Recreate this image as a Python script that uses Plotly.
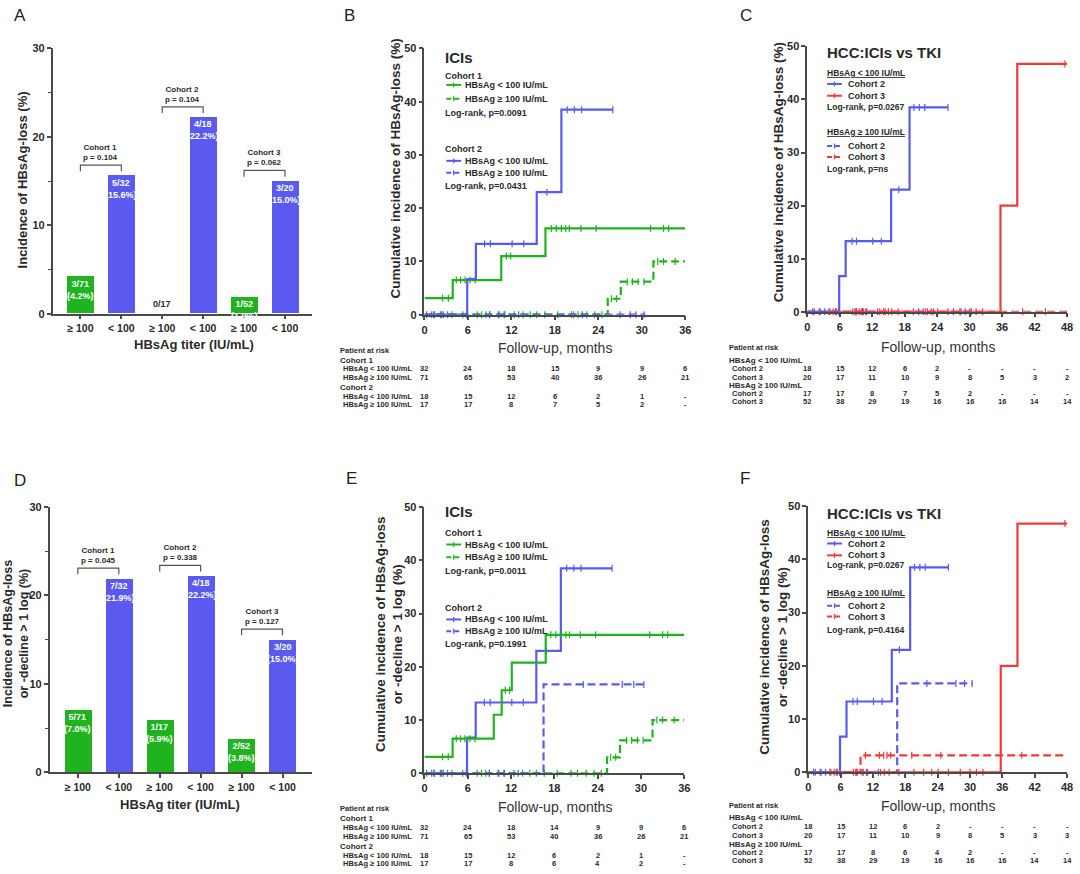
import plotly.graph_objects as go

W, H = 1080, 874
GREEN = "#1fb41f"
BLUE = "#5a5af0"
RED = "#f03a3a"
TXT = "#2a2a2a"
AX = "#4a4a4a"
FONT = "Arial, Liberation Sans, sans-serif"
DASH = "8px,4px"

# ---------------- bar data (panels A, D) ----------------
bar_categories = ["≥ 100", "< 100", "≥ 100", "< 100", "≥ 100", "< 100"]
bar_cohorts = ["Cohort 1", "Cohort 2", "Cohort 3"]
loss_pct = [4.2, 15.6, 0.0, 22.2, 1.9, 15.0]
loss_frac = ["3/71", "5/32", "0/17", "4/18", "1/52", "3/20"]
loss_p = ["0.104", "0.104", "0.062"]
decl_pct = [7.0, 21.9, 5.9, 22.2, 3.8, 15.0]
decl_frac = ["5/71", "7/32", "1/17", "4/18", "2/52", "3/20"]
decl_p = ["0.045", "0.338", "0.127"]

# ---------------- Kaplan-Meier style data ----------------
# (event times, cumulative incidence %, end of follow-up, censor times)
c1_lt_loss_t = [0, 3.9, 10.6, 16.7]
c1_lt_loss_v = [3.1, 6.5, 11.0, 16.2]
c1_lt_loss_end = 36
c1_lt_loss_cens = [2.5, 3.3, 4.4, 5.0, 5.6, 6.3, 7.0, 11.3, 11.9, 17.5, 18.2, 18.9, 19.5, 20.0, 21.6, 23.7, 31.2, 33.0, 33.7]

c1_ge_loss_t = [0, 25.3, 27.1, 31.6]
c1_ge_loss_v = [0, 3.0, 6.2, 10.0]
c1_ge_loss_end = 36
c1_ge_loss_cens = [0.3, 1.4, 2.6, 3.8, 5.3, 7.3, 7.9, 8.5, 9.0, 10.3, 11.1, 12.4, 13.6, 14.6, 15.5, 16.6,
                   18.4, 20.3, 21.2, 22.4, 23.5, 24.5, 25.8, 26.5, 28.0, 28.7, 29.5, 30.3, 32.2, 33.0, 34.6]

c2_lt_loss_t = [0, 5.9, 7.1, 15.5, 18.9]
c2_lt_loss_v = [0, 6.7, 13.3, 23.0, 38.5]
c2_lt_loss_end = 26
c2_lt_loss_cens = [1.3, 2.4, 3.2, 8.3, 9.1, 12.1, 13.7, 16.9, 19.7, 20.7, 21.7, 26.0]

c2_ge_loss_t = [0]
c2_ge_loss_v = [0]
c2_ge_loss_end = 30.5
c2_ge_loss_cens = [1.0, 2.2, 5.8, 9.0, 10.2, 11.0, 13.0, 20.6, 21.8, 27.0, 28.4, 29.2, 30.3]

c3_lt_loss_t = [0, 35.7, 38.8]
c3_lt_loss_v = [0, 20.0, 46.7]
c3_lt_loss_end = 48
c3_lt_loss_cens = [4.2, 4.8, 5.4, 8.4, 9.1, 10.0, 10.8, 13.4, 14.1, 15.0, 16.8, 19.6, 21.4, 22.9,
                   24.1, 26.0, 28.2, 30.0, 31.2, 32.4, 47.6]

c3_ge_loss_t = [0]
c3_ge_loss_v = [0]
c3_ge_loss_end = 48
c3_ge_loss_cens = [4.0, 5.2, 8.8, 9.6, 10.4, 14.4, 15.6, 22.2, 23.3, 39.8, 44.0]

c1_lt_decl_t = [0, 3.9, 9.6, 10.7, 12.1, 16.8]
c1_lt_decl_v = [3.1, 6.5, 11.0, 15.6, 20.8, 26.0]
c1_lt_decl_end = 36
c1_lt_decl_cens = [2.5, 3.3, 4.4, 5.0, 5.6, 6.3, 7.0, 11.2, 11.8, 17.5, 18.2, 19.0, 19.6, 20.1, 21.6, 23.7, 31.2, 33.0, 33.7]

c2_ge_decl_t = [0, 16.5]
c2_ge_decl_v = [0, 16.7]
c2_ge_decl_end = 30.4
c2_ge_decl_cens = [1.0, 2.2, 5.8, 9.0, 10.2, 11.0, 13.0, 22.0, 27.4, 29.0, 30.4]

c3_ge_decl_t = [0, 9.7]
c3_ge_decl_v = [0, 3.2]
c3_ge_decl_end = 48
c3_ge_decl_cens = [4.0, 5.2, 8.8, 10.6, 13.2, 14.0, 14.6, 15.3, 19.2, 24.6, 39.6]

# ---------------- risk tables ----------------
ici_ticks = [0, 6, 12, 18, 24, 30, 36]
tki_ticks = [0, 6, 12, 18, 24, 30, 36, 42, 48]

B_risk_c1_lt = ["32", "24", "18", "15", "9", "9", "6"]
B_risk_c1_ge = ["71", "65", "53", "40", "36", "26", "21"]
B_risk_c2_lt = ["18", "15", "12", "6", "2", "1", "-"]
B_risk_c2_ge = ["17", "17", "8", "7", "5", "2", "-"]

C_risk_lt_c2 = ["18", "15", "12", "6", "2", "-", "-", "-", "-"]
C_risk_lt_c3 = ["20", "17", "11", "10", "9", "8", "5", "3", "2"]
C_risk_ge_c2 = ["17", "17", "8", "7", "5", "2", "-", "-", "-"]
C_risk_ge_c3 = ["52", "38", "29", "19", "16", "16", "16", "14", "14"]

E_risk_c1_lt = ["32", "24", "18", "14", "9", "9", "6"]
E_risk_c1_ge = ["71", "65", "53", "40", "36", "26", "21"]
E_risk_c2_lt = ["18", "15", "12", "6", "2", "1", "-"]
E_risk_c2_ge = ["17", "17", "8", "6", "4", "2", "-"]

F_risk_lt_c2 = ["18", "15", "12", "6", "2", "-", "-", "-", "-"]
F_risk_lt_c3 = ["20", "17", "11", "10", "9", "8", "5", "3", "3"]
F_risk_ge_c2 = ["17", "17", "8", "6", "4", "2", "-", "-", "-"]
F_risk_ge_c3 = ["52", "38", "29", "19", "16", "16", "16", "14", "14"]


# ---------------- helpers ----------------
def px(x):
    return x / W


def py(y):
    return 1 - y / H


annotations = []
shapes = []


def ann(text, x, y, size=9, bold=True, color=TXT, xanchor="left", yanchor="middle",
        xref="paper", yref="paper", angle=0, yshift=0):
    if bold:
        text = f"<b>{text}</b>"
    annotations.append(dict(text=text, x=x, y=y, xref=xref, yref=yref, xanchor=xanchor,
                            yanchor=yanchor, showarrow=False, textangle=angle, yshift=yshift,
                            font=dict(size=size, color=color, family=FONT), borderpad=0))


def axis(**kw):
    d = dict(showline=True, linecolor=AX, linewidth=1.5, ticks="outside", ticklen=4,
             tickwidth=1.5, tickcolor=AX, showgrid=False, zeroline=False, fixedrange=True,
             tickfont=dict(family=FONT, size=11, color=TXT, weight="bold"))
    d.update(kw)
    return d


fig = go.Figure()


def level_at(t, v, x):
    lv = v[0]
    for ti, vi in zip(t, v):
        if ti <= x:
            lv = vi
    return lv


def km(xa, ya, t, v, end, cens, color, dash):
    xs = list(t) + [end]
    ys = list(v) + [v[-1]]
    fig.add_trace(go.Scatter(x=xs, y=ys, mode="lines", line=dict(color=color, width=2.2, dash=dash, shape="hv"),
                             xaxis=xa, yaxis=ya, showlegend=False, hoverinfo="skip"))
    fig.add_trace(go.Scatter(x=cens, y=[level_at(t, v, c) for c in cens], mode="markers",
                             marker=dict(symbol="line-ns", size=5, color=color, line=dict(width=1.2, color=color)),
                             xaxis=xa, yaxis=ya, showlegend=False, hoverinfo="skip", cliponaxis=False))


def bars(xa, ya, pct, frac, pvals):
    xref = "x" if xa == "x" else xa
    yref = "y" if ya == "y" else ya
    colors = [GREEN if i % 2 == 0 else BLUE for i in range(len(pct))]
    fig.add_trace(go.Bar(x=list(range(len(pct))), y=pct, marker=dict(color=colors, line=dict(width=0)),
                         width=0.66, xaxis=xa, yaxis=ya, showlegend=False, hoverinfo="skip"))
    for i, (p, f) in enumerate(zip(pct, frac)):
        if p > 0:
            ann(f"{f}<br>({p:.1f}%)", i, p, size=9, color="white", xanchor="center", yanchor="top",
                xref=xref, yref=yref, yshift=-1)
        else:
            ann(f, i, p, size=9, color=TXT, xanchor="center", yanchor="bottom", xref=xref, yref=yref, yshift=4)
    for k, (coh, pv) in enumerate(zip(bar_cohorts, pvals)):
        i, j = 2 * k, 2 * k + 1
        top = max(pct[i], pct[j]) + 1.2
        low = top - 0.7
        fig.add_trace(go.Scatter(x=[i, i, j, j], y=[low, top, top, low], mode="lines",
                                 line=dict(color="#555555", width=1.2), xaxis=xa, yaxis=ya,
                                 showlegend=False, hoverinfo="skip"))
        ann(f"{coh}<br>p = {pv}", (i + j) / 2, top, size=8, xanchor="center", yanchor="bottom",
            xref=xref, yref=yref, yshift=2)


def sample(x0, y, color, dash):
    shapes.append(dict(type="line", xref="paper", yref="paper", x0=px(x0), x1=px(x0 + 15), y0=py(y), y1=py(y),
                       line=dict(color=color, width=2, dash=("5px,3px" if dash != "solid" else "solid"))))
    shapes.append(dict(type="line", xref="paper", yref="paper", x0=px(x0 + 7.5), x1=px(x0 + 7.5),
                       y0=py(y - 2.5), y1=py(y + 2.5), line=dict(color=color, width=1.3)))


def risk_table(xref, ticks, top, rows, label_x):
    ann("Patient at risk", px(label_x), py(top), size=7.5)
    for (kind, label, vals, ypx) in rows:
        if kind == "head":
            ann(label, px(label_x), py(ypx), size=8)
        else:
            ann(label, px(label_x + 3), py(ypx), size=7.5)
            for tv, val in zip(ticks, vals):
                ann(val, tv, py(ypx), size=7.5, xanchor="center", xref=xref)


# ---------------- Panel A ----------------
bars("x", "y", loss_pct, loss_frac, loss_p)
# ---------------- Panel D ----------------
bars("x4", "y4", decl_pct, decl_frac, decl_p)

# ---------------- Panel B ----------------
km("x2", "y2", c1_ge_loss_t, c1_ge_loss_v, c1_ge_loss_end, c1_ge_loss_cens, GREEN, DASH)
km("x2", "y2", c2_ge_loss_t, c2_ge_loss_v, c2_ge_loss_end, c2_ge_loss_cens, BLUE, DASH)
km("x2", "y2", c1_lt_loss_t, c1_lt_loss_v, c1_lt_loss_end, c1_lt_loss_cens, GREEN, "solid")
km("x2", "y2", c2_lt_loss_t, c2_lt_loss_v, c2_lt_loss_end, c2_lt_loss_cens, BLUE, "solid")

# ---------------- Panel C ----------------
km("x3", "y3", c2_ge_loss_t, c2_ge_loss_v, c2_ge_loss_end, c2_ge_loss_cens, BLUE, DASH)
km("x3", "y3", c3_ge_loss_t, c3_ge_loss_v, c3_ge_loss_end, c3_ge_loss_cens, RED, DASH)
km("x3", "y3", c3_lt_loss_t, c3_lt_loss_v, c3_lt_loss_end, c3_lt_loss_cens, RED, "solid")
km("x3", "y3", c2_lt_loss_t, c2_lt_loss_v, c2_lt_loss_end, c2_lt_loss_cens, BLUE, "solid")

# ---------------- Panel E ----------------
km("x5", "y5", c1_ge_loss_t, c1_ge_loss_v, c1_ge_loss_end, c1_ge_loss_cens, GREEN, DASH)
km("x5", "y5", c2_ge_decl_t, c2_ge_decl_v, c2_ge_decl_end, c2_ge_decl_cens, BLUE, DASH)
km("x5", "y5", c2_lt_loss_t, c2_lt_loss_v, c2_lt_loss_end, c2_lt_loss_cens, BLUE, "solid")
km("x5", "y5", c1_lt_decl_t, c1_lt_decl_v, c1_lt_decl_end, c1_lt_decl_cens, GREEN, "solid")

# ---------------- Panel F ----------------
km("x6", "y6", c2_ge_decl_t, c2_ge_decl_v, c2_ge_decl_end, c2_ge_decl_cens, BLUE, DASH)
km("x6", "y6", c3_ge_decl_t, c3_ge_decl_v, c3_ge_decl_end, c3_ge_decl_cens, RED, DASH)
km("x6", "y6", c3_lt_loss_t, c3_lt_loss_v, c3_lt_loss_end, c3_lt_loss_cens, RED, "solid")
km("x6", "y6", c2_lt_loss_t, c2_lt_loss_v, c2_lt_loss_end, c2_lt_loss_cens, BLUE, "solid")

# ---------------- panel letters ----------------
for letter, x, y in [("A", 10, 10), ("B", 343, 10), ("C", 742, 10), ("D", 10, 481), ("E", 345, 479), ("F", 742, 479)]:
    ann(letter, px(x), py(y), size=17, bold=False, color="#222")

# ---------------- axis titles ----------------
ann("Incidence of HBsAg-loss (%)", px(20), py(176), size=13, xanchor="center", angle=-90)
ann("HBsAg titer (IU/mL)", px(193), py(343), size=13, xanchor="center")
ann("Incidence of HBsAg-loss<br>or -decline > 1 log (%)", px(13), py(636), size=12.5, xanchor="center", angle=-90)
ann("HBsAg titer (IU/mL)", px(178), py(810), size=13, xanchor="center")
ann("Cumulative incidence of HBsAg-loss (%)", px(396), py(165), size=13.5, xanchor="center", angle=-90)
ann("Cumulative incidence of HBsAg-loss (%)", px(782), py(168), size=13.5, xanchor="center", angle=-90)
ann("Cumulative incidence of HBsAg-loss<br>or -decline > 1 log (%)", px(389), py(637), size=13.5, xanchor="center", angle=-90)
ann("Cumulative incidence of HBsAg-loss<br>or -decline > 1 log (%)", px(777), py(640), size=13.5, xanchor="center", angle=-90)
for x, y in [(557, 347), (557, 812), (943, 346), (943, 811)]:
    ann("Follow-up, months", px(x), py(y), size=14, bold=False, color="#333", xanchor="center")

# ---------------- legends B / E ----------------
for dy, p1, p2 in [(0, "0.0091", "0.0431"), (465, "0.0011", "0.1991")]:
    ann("ICIs", px(445), py(52 + dy - (4 if dy else 0)), size=15)
    ann("Cohort 1", px(445), py(71 + dy - 2 * (dy > 0)), size=9)
    sample(447, 80 + dy + (1 if dy else 0), GREEN, "solid")
    ann("HBsAg < 100 IU/mL", px(465), py(80 + dy + (1 if dy else 0)), size=9)
    sample(447, 94 + dy, GREEN, "dash")
    ann("HBsAg ≥ 100 IU/mL", px(465), py(94 + dy), size=9)
    ann(f"Log-rank, p={p1}", px(445), py(108 + dy), size=9)
    ann("Cohort 2", px(445), py(146 + dy - 1), size=9)
    sample(447, 157 + dy, BLUE, "solid")
    ann("HBsAg < 100 IU/mL", px(465), py(157 + dy), size=9)
    sample(447, 170 + dy - 1, BLUE, "dash")
    ann("HBsAg ≥ 100 IU/mL", px(465), py(170 + dy - 1), size=9)
    ann(f"Log-rank, p={p2}", px(445), py(183 + dy - 1), size=9)

# ---------------- legends C / F ----------------
for ys, p1, p2 in [((47, 68, 79, 91, 102, 128, 142, 153, 165), "0.0267", "ns"),
                   ((515, 534, 545, 557, 567, 595, 608, 619, 633), "0.0267", "0.4164")]:
    ann("HCC:ICIs vs TKI", px(830), py(ys[0]), size=15)
    ann("<u>HBsAg < 100 IU/mL</u>", px(830), py(ys[1]), size=8.5)
    sample(831, ys[2], BLUE, "solid")
    ann("Cohort 2", px(851), py(ys[2]), size=9)
    sample(831, ys[3], RED, "solid")
    ann("Cohort 3", px(851), py(ys[3]), size=9)
    ann(f"Log-rank, p={p1}", px(830), py(ys[4]), size=8.5)
    ann("<u>HBsAg ≥ 100 IU/mL</u>", px(830), py(ys[5]), size=8.5)
    sample(831, ys[6], BLUE, "dash")
    ann("Cohort 2", px(851), py(ys[6]), size=9)
    sample(831, ys[7], RED, "dash")
    ann("Cohort 3", px(851), py(ys[7]), size=9)
    ann(f"Log-rank, p={p2}", px(830), py(ys[8]), size=8.5)

# ---------------- risk tables ----------------
for xref, dy, rows in [("x2", 0, (B_risk_c1_lt, B_risk_c1_ge, B_risk_c2_lt, B_risk_c2_ge)),
                       ("x5", 465, (E_risk_c1_lt, E_risk_c1_ge, E_risk_c2_lt, E_risk_c2_ge))]:
    risk_table(xref, ici_ticks, 349 + dy, [
        ("head", "Cohort 1", None, 359 + dy),
        ("row", "HBsAg < 100 IU/mL", rows[0], 368 + dy),
        ("row", "HBsAg ≥ 100 IU/mL", rows[1], 377 + dy),
        ("head", "Cohort 2", None, 387 + dy),
        ("row", "HBsAg < 100 IU/mL", rows[2], 396 + dy),
        ("row", "HBsAg ≥ 100 IU/mL", rows[3], 404 + dy),
    ], 339)

for xref, dy, rows in [("x3", 0, (C_risk_lt_c2, C_risk_lt_c3, C_risk_ge_c2, C_risk_ge_c3)),
                       ("x6", 465, (F_risk_lt_c2, F_risk_lt_c3, F_risk_ge_c2, F_risk_ge_c3))]:
    risk_table(xref, tki_ticks, 346 + dy, [
        ("head", "HBsAg < 100 IU/mL", None, 359 + dy - (1 if dy else 0)),
        ("row", "Cohort 2", rows[0], 368 + dy - (1 if dy else 0)),
        ("row", "Cohort 3", rows[1], 377 + dy - (1 if dy else 0)),
        ("head", "HBsAg ≥ 100 IU/mL", None, 385 + dy),
        ("row", "Cohort 2", rows[2], 393 + dy),
        ("row", "Cohort 3", rows[3], 401 + dy),
    ], 731)

# ---------------- layout ----------------
bar_y = dict(range=[0, 30], tickvals=[0, 10, 20, 30],
             minor=dict(tickvals=[5, 15, 25], ticks="outside", ticklen=2.5, tickwidth=1.2, tickcolor=AX))
km_y = dict(range=[0, 50], tickvals=[0, 10, 20, 30, 40, 50])

fig.update_layout(
    width=W, height=H, margin=dict(l=0, r=0, t=0, b=0),
    paper_bgcolor="white", plot_bgcolor="white", showlegend=False, bargap=0,
    font=dict(family=FONT, color=TXT),
    xaxis=axis(domain=[px(50), px(312)], range=[-0.68, 5.67], tickvals=list(range(6)),
               ticktext=bar_categories, anchor="y", tickfont=dict(family=FONT, size=10.5, color=TXT, weight="bold")),
    yaxis=axis(domain=[py(312), py(43)], anchor="x", **bar_y),
    xaxis4=axis(domain=[px(47), px(312)], range=[-0.69, 5.73], tickvals=list(range(6)),
                ticktext=bar_categories, anchor="y4", tickfont=dict(family=FONT, size=10.5, color=TXT, weight="bold")),
    yaxis4=axis(domain=[py(777), py(508)], anchor="x4", **bar_y),
    xaxis2=axis(domain=[px(425), px(688)], range=[0, 36], tickvals=ici_ticks, anchor="y2"),
    yaxis2=axis(domain=[py(313), py(43)], anchor="x2", **km_y),
    xaxis3=axis(domain=[px(811), px(1073)], range=[0, 48], tickvals=tki_ticks, anchor="y3"),
    yaxis3=axis(domain=[py(310), py(41)], anchor="x3", **km_y),
    xaxis5=axis(domain=[px(425), px(687)], range=[0, 36], tickvals=ici_ticks, anchor="y5"),
    yaxis5=axis(domain=[py(778), py(508)], anchor="x5", **km_y),
    xaxis6=axis(domain=[px(812), px(1073)], range=[0, 48], tickvals=tki_ticks, anchor="y6"),
    yaxis6=axis(domain=[py(777), py(507)], anchor="x6", **km_y),
    annotations=annotations,
    shapes=shapes,
)

fig.write_html("out.html", config={"displayModeBar": False},
               post_script="document.body.style.margin='0';document.body.style.overflow='hidden';")
